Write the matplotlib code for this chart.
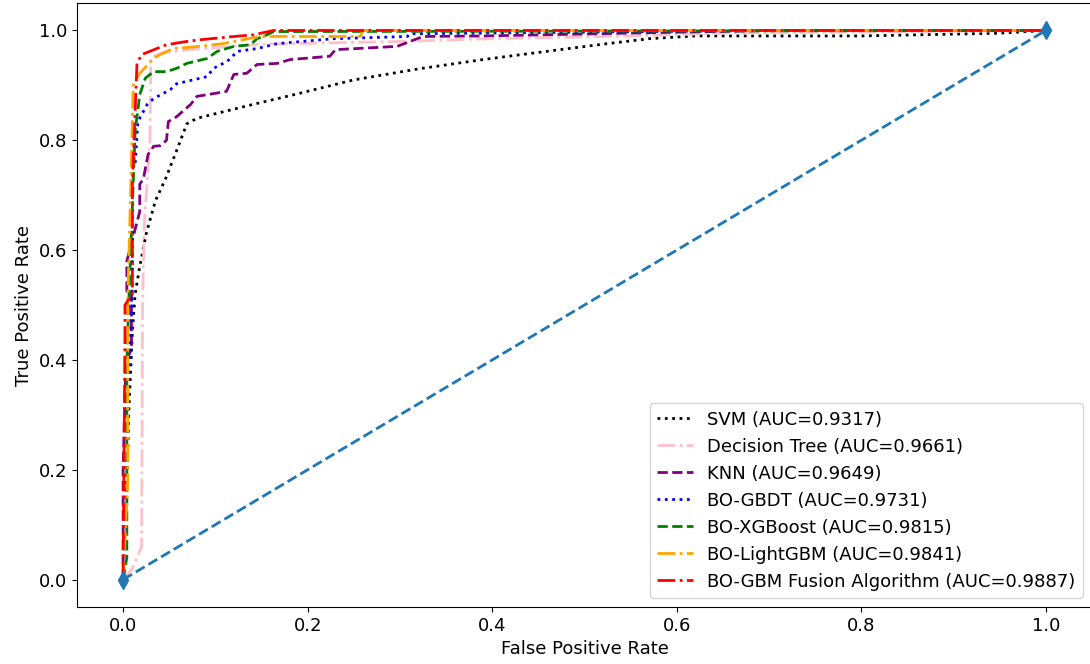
import matplotlib
matplotlib.use("Agg")
import matplotlib.pyplot as plt

# ROC points
svm_fpr = [0, 0.003, 0.006, 0.010, 0.013, 0.018, 0.025, 0.035, 0.046, 0.060, 0.069, 0.080,
           0.140, 0.190, 0.250, 0.320, 0.390, 0.450, 0.520, 0.570, 0.620, 0.800, 0.950, 1.0]
svm_tpr = [0, 0.10, 0.30, 0.45, 0.52, 0.57, 0.63, 0.69, 0.73, 0.79, 0.83, 0.84,
           0.865, 0.885, 0.91, 0.93, 0.947, 0.96, 0.975, 0.985, 0.99, 0.99, 0.995, 1.0]

dt_fpr = [0, 0.010, 0.020, 0.021, 0.023, 0.027, 0.029, 0.030, 0.040, 0.070, 0.150, 0.300,
          0.400, 0.550, 0.650, 1.0]
dt_tpr = [0, 0.02, 0.06, 0.50, 0.65, 0.75, 0.80, 0.95, 0.958, 0.965, 0.975, 0.98,
          0.985, 0.99, 0.995, 1.0]

knn_fpr = [0, 0.0, 0.003, 0.004, 0.009, 0.009, 0.004, 0.004, 0.018, 0.018, 0.022, 0.027, 0.033,
           0.040, 0.047, 0.049, 0.058, 0.073, 0.080, 0.098, 0.112, 0.120, 0.134, 0.145,
           0.167, 0.181, 0.224, 0.230, 0.297, 0.311, 0.325, 0.390, 0.700, 1.0]
knn_tpr = [0, 0.20, 0.40, 0.40, 0.42, 0.525, 0.525, 0.58, 0.67, 0.72, 0.73, 0.774, 0.789,
           0.79, 0.80, 0.834, 0.843, 0.865, 0.88, 0.885, 0.889, 0.92, 0.922, 0.938,
           0.94, 0.947, 0.953, 0.965, 0.971, 0.98, 0.989, 0.99, 1.0, 1.0]

gbdt_fpr = [0, 0.004, 0.006, 0.010, 0.010, 0.013, 0.016, 0.026, 0.033, 0.051, 0.058, 0.091,
            0.098, 0.113, 0.124, 0.145, 0.167, 0.228, 0.308, 0.311, 0.700, 1.0]
gbdt_tpr = [0, 0.20, 0.34, 0.54, 0.756, 0.756, 0.834, 0.865, 0.876, 0.892, 0.903, 0.916,
            0.931, 0.944, 0.962, 0.967, 0.976, 0.985, 0.989, 0.994, 1.0, 1.0]

xgb_fpr = [0, 0.004, 0.004, 0.006, 0.013, 0.018, 0.024, 0.033, 0.047, 0.058, 0.069, 0.091,
           0.102, 0.120, 0.138, 0.145, 0.152, 0.163, 1.0]
xgb_tpr = [0, 0.04, 0.39, 0.50, 0.816, 0.883, 0.913, 0.925, 0.925, 0.931, 0.94, 0.949,
           0.962, 0.971, 0.974, 0.985, 0.989, 0.998, 1.0]

lgbm_fpr = [0, 0.005, 0.005, 0.008, 0.011, 0.017, 0.033, 0.040, 0.054, 0.083, 0.108, 0.148,
            0.257, 0.260, 1.0]
lgbm_tpr = [0, 0.18, 0.51, 0.70, 0.90, 0.92, 0.949, 0.956, 0.967, 0.971, 0.976, 0.989,
            0.989, 1.0, 1.0]

fusion_fpr = [0, 0.0, 0.002, 0.002, 0.010, 0.010, 0.015, 0.020, 0.029, 0.047, 0.069, 0.083,
              0.120, 0.141, 0.163, 1.0]
fusion_tpr = [0, 0.02, 0.45, 0.50, 0.52, 0.72, 0.94, 0.956, 0.962, 0.974, 0.98, 0.983,
              0.989, 0.992, 1.0, 1.0]

models = ["SVM", "Decision Tree", "KNN", "BO-GBDT", "BO-XGBoost", "BO-LightGBM",
          "BO-GBM Fusion Algorithm"]
aucs = [0.9317, 0.9661, 0.9649, 0.9731, 0.9815, 0.9841, 0.9887]
curves = [(svm_fpr, svm_tpr), (dt_fpr, dt_tpr), (knn_fpr, knn_tpr), (gbdt_fpr, gbdt_tpr),
          (xgb_fpr, xgb_tpr), (lgbm_fpr, lgbm_tpr), (fusion_fpr, fusion_tpr)]
colors = ["black", "pink", "purple", "blue", "green", "orange", "red"]
styles = [":", "-.", "--", ":", "--", "-.", "-."]

plt.rcParams["font.size"] = 13

fig = plt.figure(figsize=(10.9, 6.64), dpi=100)
ax = fig.add_axes([77 / 1090, 57 / 664, 1015 / 1090, 604 / 664])

for name, auc, (fpr, tpr), c, ls in zip(models, aucs, curves, colors, styles):
    ax.plot(fpr, tpr, color=c, linestyle=ls, linewidth=2, label=f"{name} (AUC={auc:.4f})")

ax.plot([0, 1], [0, 1], "d--", color="C0", linewidth=2, markersize=9)

ax.set_xlabel("False Positive Rate")
ax.set_ylabel("True Positive Rate")
ax.legend(loc="lower right")

fig.savefig("out.png", dpi=100)
